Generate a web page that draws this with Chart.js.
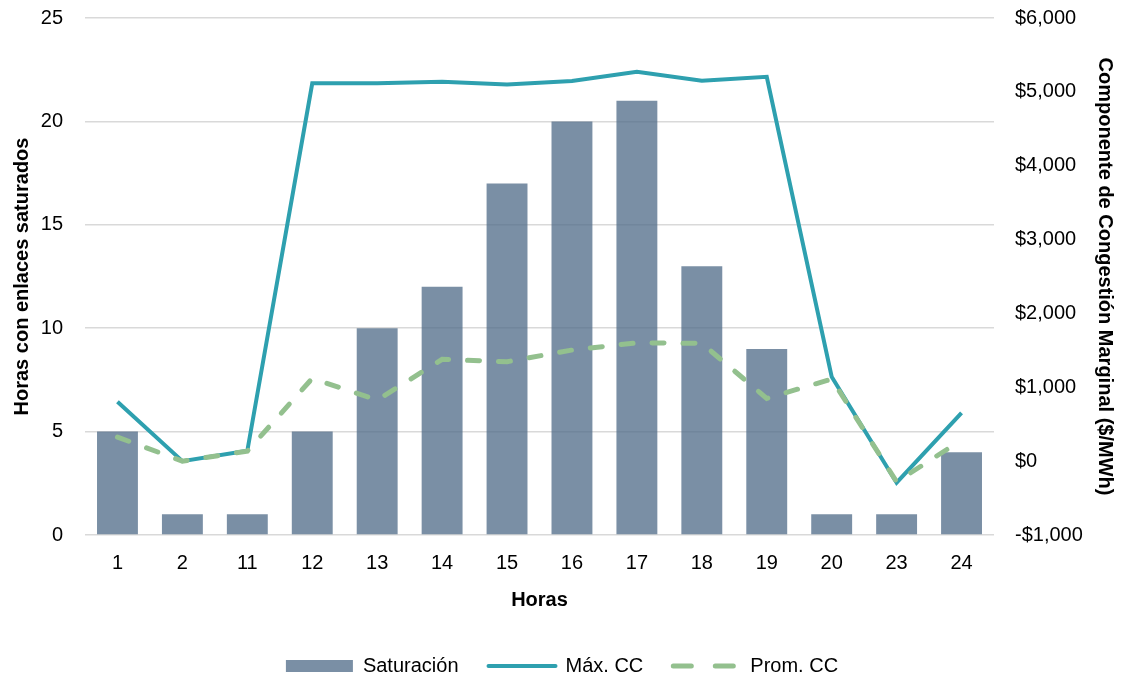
<!DOCTYPE html>
<html>
<head>
<meta charset="utf-8">
<script src="https://cdn.jsdelivr.net/npm/chart.js@4"></script>
<style>
  body { margin: 0; background: #fff; }
  #wrap { width: 1124px; height: 679px; }
</style>
</head>
<body>
<div id="wrap"><canvas id="chart"></canvas></div>
<script>
// datos
const horas = ['1', '2', '11', '12', '13', '14', '15', '16', '17', '18', '19', '20', '23', '24'];
const saturacion = [5, 1, 1, 5, 10, 12, 17, 20, 21, 13, 9, 1, 1, 4];
const maxCC = [804, 0, 141, 5115, 5115, 5137, 5101, 5146, 5272, 5150, 5204, 1143, -292, 655];
const promCC = [326, 0, 135, 1121, 827, 1378, 1346, 1504, 1603, 1595, 850, 1112, -280, 286];
const leftTicks = [0, 5, 10, 15, 20, 25];
const rightTicks = [-1000, 0, 1000, 2000, 3000, 4000, 5000, 6000];

const FONT = 'Liberation Sans, Arial, sans-serif';

function money(v) {
    const s = '$' + Math.abs(v).toLocaleString('en-US');
    return v < 0 ? '-' + s : s;
}

// ancho fijo del eje y sin relleno extra arriba
function fixY(width) {
    return function(axis) {
        axis.width = width;
        axis.paddingTop = 0;
        axis.paddingBottom = 0;
    };
}

const ctx = document.getElementById('chart').getContext('2d');
new Chart(ctx, {
    data: {
        labels: horas,
        datasets: [{
            type: 'line',
            label: 'Máx. CC',
            data: maxCC,
            yAxisID: 'y1',
            borderColor: '#2EA0AF',
            backgroundColor: '#2EA0AF',
            borderWidth: 4,
            pointRadius: 0,
            tension: 0,
            order: 1
        }, {
            type: 'line',
            label: 'Prom. CC',
            data: promCC,
            yAxisID: 'y1',
            borderColor: '#93C08E',
            backgroundColor: '#93C08E',
            borderWidth: 5,
            borderDash: [12, 19],
            borderCapStyle: 'round',
            pointRadius: 0,
            tension: 0,
            order: 0
        }, {
            type: 'bar',
            label: 'Saturación',
            data: saturacion,
            yAxisID: 'y',
            backgroundColor: 'rgba(78,106,135,0.75)',
            categoryPercentage: 1,
            barPercentage: 0.63,
            order: 2
        }]
    },
    options: {
        responsive: true,
        maintainAspectRatio: false,
        animation: false,
        layout: { padding: { top: 18, bottom: -7, left: 0, right: 0 } },
        plugins: {
            tooltip: { enabled: false },
            legend: {
                position: 'bottom',
                labels: {
                    usePointStyle: true,
                    pointStyleWidth: 67,
                    boxHeight: 12,
                    padding: 30,
                    color: '#000',
                    font: { family: FONT, size: 20 },
                    sort: (a, b) => {
                        const rank = { 'Saturación': 0, 'Máx. CC': 1, 'Prom. CC': 2 };
                        return rank[a.text] - rank[b.text];
                    },
                    generateLabels: function(chart) {
                        const items = Chart.defaults.plugins.legend.labels.generateLabels(chart);
                        items.forEach(function(it) {
                            if (it.text === 'Saturación') {
                                it.pointStyle = 'rect';
                                it.lineWidth = 0;
                            } else if (it.text === 'Máx. CC') {
                                it.pointStyle = 'line';
                                it.lineWidth = 4;
                                it.lineCap = 'round';
                                it.strokeStyle = '#2EA0AF';
                            } else {
                                it.pointStyle = 'line';
                                it.lineWidth = 5;
                                it.lineCap = 'round';
                                it.lineDash = [18, 24];
                                it.strokeStyle = '#93C08E';
                            }
                        });
                        return items;
                    }
                }
            }
        },
        scales: {
            x: {
                afterFit: axis => { axis.height = 91; },
                grid: { display: false, drawTicks: false },
                border: { display: false },
                ticks: { color: '#000', padding: 16, font: { family: FONT, size: 20 } },
                title: {
                    display: true,
                    text: 'Horas',
                    color: '#000',
                    font: { family: FONT, size: 20, weight: 'bold' },
                    padding: { top: 0, bottom: 14 }
                }
            },
            y: {
                position: 'left',
                min: 0,
                max: 25,
                afterBuildTicks: function(axis) {
                    axis.ticks = leftTicks.map(v => ({ value: v }));
                },
                afterFit: fixY(85),
                grid: { color: '#d9d9d9', lineWidth: 1.5, drawTicks: false },
                border: { display: false },
                ticks: { color: '#000', padding: 22, font: { family: FONT, size: 20 } },
                title: {
                    display: true,
                    text: 'Horas con enlaces saturados',
                    color: '#000',
                    font: { family: FONT, size: 20, weight: 'bold' },
                    padding: { top: 10, bottom: 0 }
                }
            },
            y1: {
                position: 'right',
                min: -1000,
                max: 6000,
                afterBuildTicks: function(axis) {
                    axis.ticks = rightTicks.map(v => ({ value: v }));
                },
                afterFit: fixY(130),
                grid: { display: false, drawTicks: false },
                border: { display: false },
                ticks: {
                    color: '#000',
                    padding: 21,
                    font: { family: FONT, size: 20 },
                    callback: v => money(v)
                },
                title: {
                    display: true,
                    text: 'Componente de Congestión Marginal ($/MWh)',
                    color: '#000',
                    font: { family: FONT, size: 20, weight: 'bold' },
                    padding: { top: 7, bottom: 0 }
                }
            }
        }
    }
});
</script>
</body>
</html>
